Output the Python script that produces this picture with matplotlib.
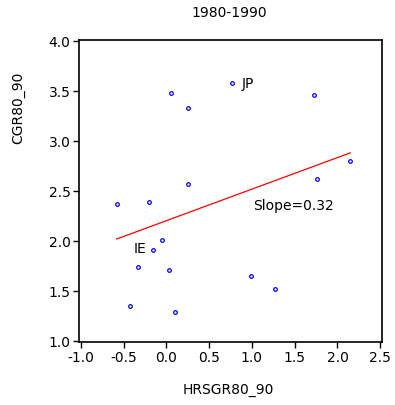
import numpy as np
import matplotlib
matplotlib.use("Agg")
import matplotlib.pyplot as plt

# data (1980-1990)
hrsgr = [0.06, 0.25, 0.25, 0.77, 1.73, 2.15, 1.76, -0.58, -0.20, -0.05,
         -0.15, -0.33, 0.03, -0.42, 0.10, 0.99, 1.27]
cgr = [3.48, 3.33, 2.57, 3.58, 3.46, 2.80, 2.62, 2.37, 2.39, 2.01,
       1.91, 1.74, 1.71, 1.35, 1.29, 1.65, 1.52]
labels = {"JP": (0.88, 3.58), "IE": (-0.38, 1.93)}
slope_text = "Slope=0.32"
xticks = [-1.0, -0.5, 0.0, 0.5, 1.0, 1.5, 2.0, 2.5]
yticks = [1.0, 1.5, 2.0, 2.5, 3.0, 3.5, 4.0]

plt.rcParams['font.family'] = ['DejaVu Sans']
plt.rcParams['axes.unicode_minus'] = False

fig = plt.figure(figsize=(3.95, 4.06), dpi=100)
ax = fig.add_axes([0.2, 0.155, 0.767, 0.744])

x = np.array(hrsgr)
y = np.array(cgr)
ax.plot(x, y, 'o', ms=2.6, mfc='white', mec='#0000ff', mew=0.9, zorder=3)

# regression line over the data range
b, a = np.polyfit(x, y, 1)
xs = np.array([x.min(), x.max()])
ax.plot(xs, a + b * xs, color='red', lw=0.9)

for name, (tx, ty) in labels.items():
    ax.text(tx, ty, name, fontsize=10, ha='left', va='center')
ax.text(1.01, 2.36, slope_text, fontsize=10, ha='left', va='center')

ax.set_xlim(-1.02, 2.52)
ax.set_ylim(0.985, 4.005)
ax.set_xticks(xticks)
ax.set_yticks(yticks)
ax.set_xticklabels([f"{v:.1f}" for v in xticks])
ax.set_yticklabels([f"{v:.1f}" for v in yticks])
ax.tick_params(direction='out', length=4, width=1, labelsize=10, pad=2)
for s in ax.spines.values():
    s.set_linewidth(1.2)

ax.set_xlabel("HRSGR80_90", fontsize=10)
ax.xaxis.set_label_coords(0.493, -0.132)
ax.xaxis.label.set_va('top')
ax.set_ylabel("CGR80_90", fontsize=10)
ax.yaxis.set_label_coords(-0.178, 0.778)

fig.text(229 / 395, 1 - 13 / 406, "1980-1990", fontsize=10, ha='center', va='center')

fig.savefig("out.png", dpi=100)
